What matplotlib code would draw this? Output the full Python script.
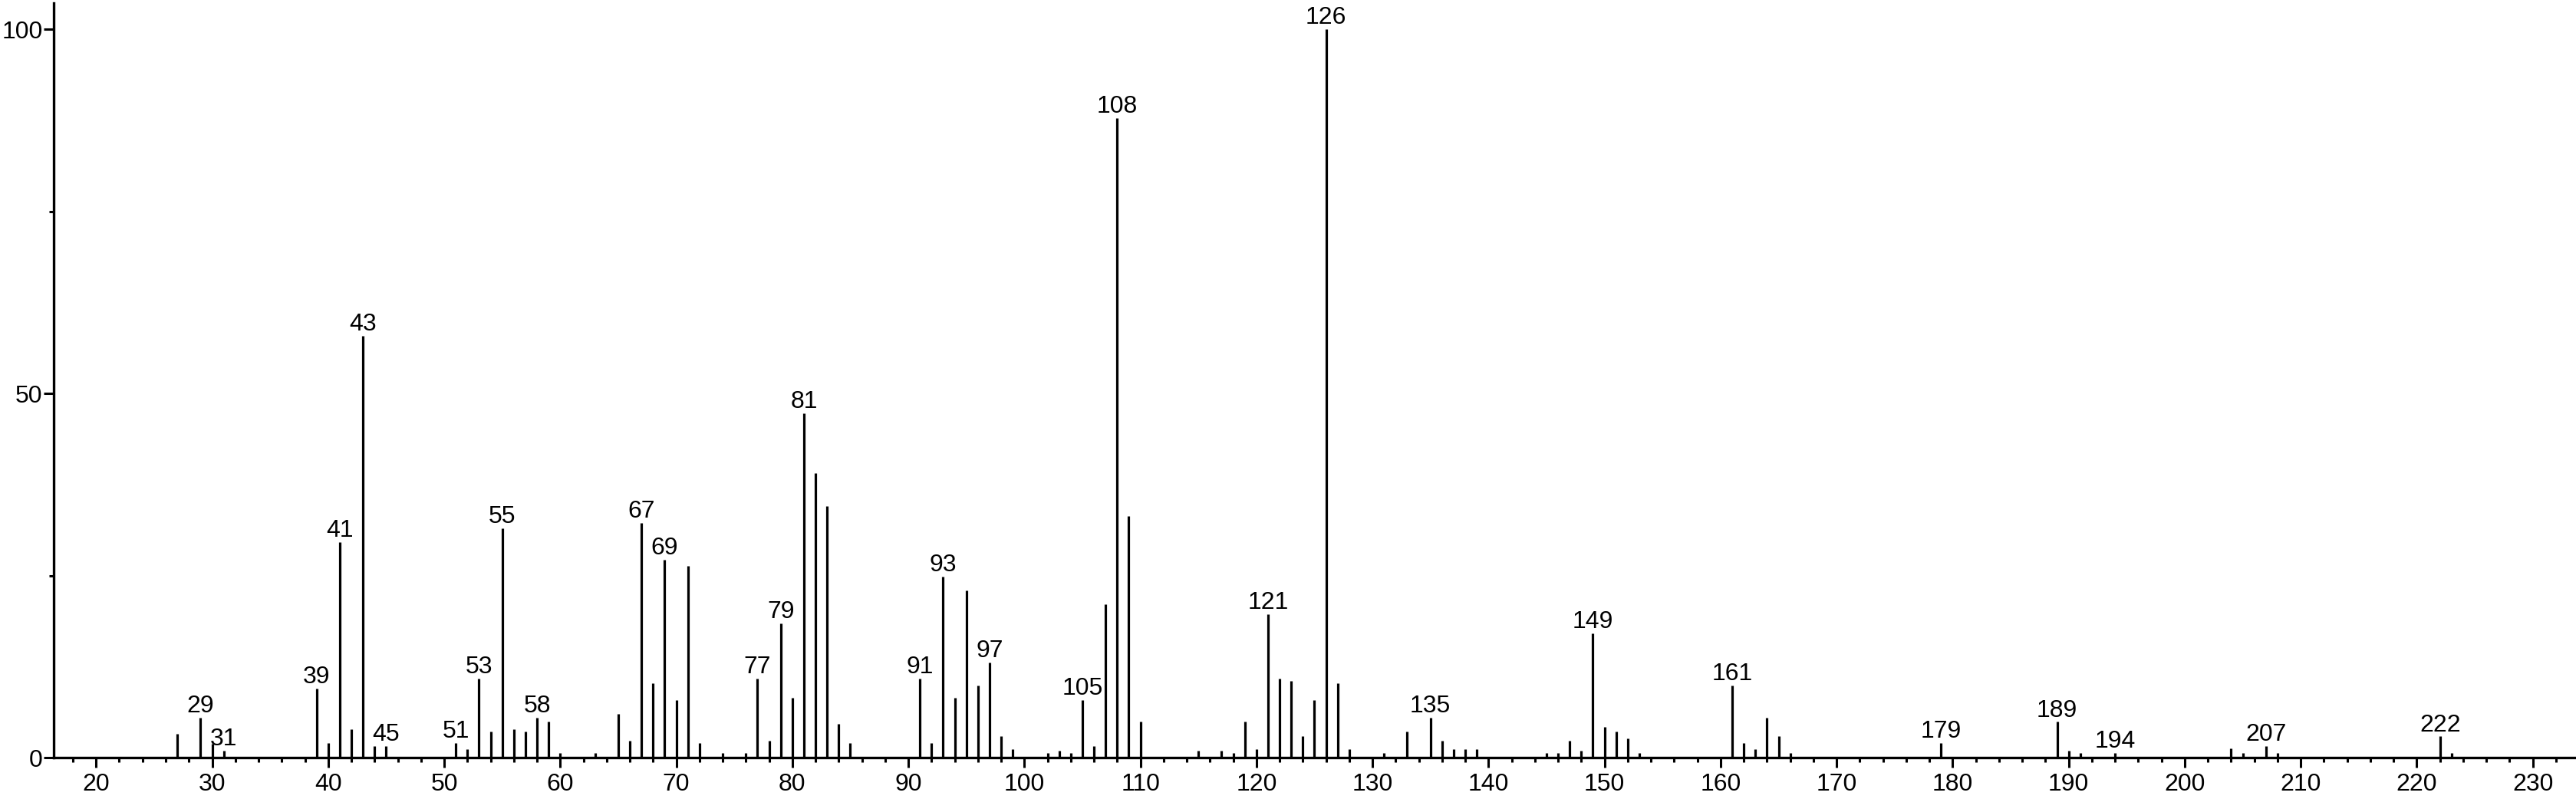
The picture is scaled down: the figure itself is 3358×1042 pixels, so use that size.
import matplotlib.pyplot as plt
from matplotlib.ticker import MultipleLocator

# m/z values and relative intensities
mz = [27, 29, 30, 31, 39, 40, 41, 42, 43, 44, 45,
      51, 52, 53, 54, 55, 56, 57, 58, 59, 60, 63, 65, 66, 67, 68, 69, 70, 71, 72,
      74, 76, 77, 78, 79, 80, 81, 82, 83, 84, 85,
      91, 92, 93, 94, 95, 96, 97, 98, 99, 102, 103, 104, 105, 106, 107, 108, 109, 110,
      115, 117, 118, 119, 120, 121, 122, 123, 124, 125, 126, 127, 128, 131, 133,
      135, 136, 137, 138, 139, 145, 146, 147, 148, 149, 150, 151, 152, 153,
      161, 162, 163, 164, 165, 166, 179, 189, 190, 191, 194,
      204, 205, 207, 208, 222, 223]
intensity = [3.3, 5.5, 1.9, 1.0, 9.5, 2.0, 29.6, 3.9, 57.9, 1.6, 1.6,
             2.0, 1.2, 10.8, 3.6, 31.5, 3.9, 3.6, 5.5, 4.9, 0.6, 0.6, 6.0, 2.3, 32.2, 10.2, 27.2, 7.9, 26.3, 2.0,
             0.6, 0.6, 10.8, 2.3, 18.4, 8.2, 47.3, 39.1, 34.5, 4.6, 2.0,
             10.8, 2.0, 24.9, 8.2, 23.0, 9.9, 13.1, 2.9, 1.2, 0.6, 1.0, 0.6, 7.9, 1.6, 21.1, 87.8, 33.2, 4.9,
             1.0, 1.0, 0.6, 4.9, 1.2, 19.7, 10.8, 10.5, 2.9, 7.9, 100.0, 10.2, 1.2, 0.6, 3.6,
             5.5, 2.3, 1.2, 1.2, 1.2, 0.6, 0.6, 2.3, 1.0, 17.1, 4.2, 3.6, 2.6, 0.6,
             9.9, 2.0, 1.2, 5.5, 2.9, 0.6, 2.0, 4.9, 1.0, 0.6, 0.6,
             1.3, 0.6, 1.6, 0.6, 2.9, 0.6]

labelled = [29, 31, 39, 41, 43, 45, 51, 53, 55, 58, 67, 69, 77, 79, 81,
            91, 93, 97, 105, 108, 121, 126, 135, 149, 161, 179, 189, 194, 207, 222]

x_ticks = list(range(20, 231, 10))
y_ticks = [0, 50, 100]

plt.rcParams['font.family'] = ['Liberation Sans', 'DejaVu Sans']

fig = plt.figure(figsize=(33.58, 10.42), dpi=100)
ax = fig.add_axes([0.0209, 0.0518, 0.979, 0.9444])

ax.vlines(mz, 0, intensity, color='black', linewidth=2.3)

heights = dict(zip(mz, intensity))
for m in labelled:
    ax.annotate(str(m), (m, heights[m]), xytext=(0, 5), textcoords='offset points',
                ha='center', va='baseline', fontsize=23)

ax.set_xlim(16.36, 233.7)
ax.set_ylim(0, 103.6)

ax.set_xticks(x_ticks)
ax.set_yticks(y_ticks)
ax.xaxis.set_minor_locator(MultipleLocator(2))
ax.yaxis.set_minor_locator(MultipleLocator(25))

ax.tick_params(axis='both', which='major', labelsize=23, length=9.5, width=2.2,
               direction='out', color='black')
ax.tick_params(axis='both', which='minor', length=4.5, width=2.2, direction='out')
ax.tick_params(axis='x', which='major', pad=5)
ax.tick_params(axis='y', which='major', pad=1)

for side in ['top', 'right']:
    ax.spines[side].set_visible(False)
for side in ['left', 'bottom']:
    ax.spines[side].set_linewidth(2.4)

fig.savefig('out.png', dpi=100)
